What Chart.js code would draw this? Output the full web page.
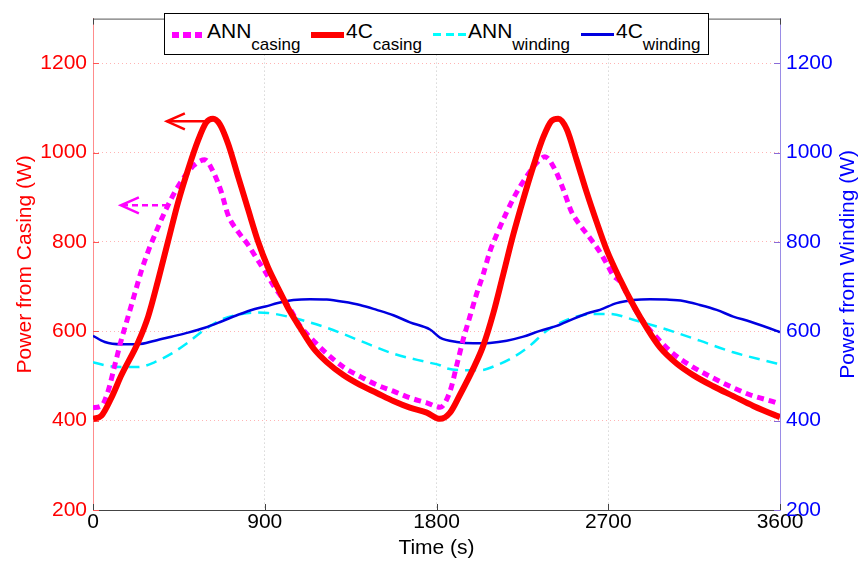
<!DOCTYPE html>
<html lang="en">
<head>
<meta charset="UTF-8">
<title>Power from casing and winding</title>
<script src="https://cdn.jsdelivr.net/npm/chart.js"></script>
<style>
  body { margin: 0; background: #fff; font-family: "Liberation Sans", Arial, sans-serif; }
  #wrap { position: relative; width: 860px; height: 563px; }
  #legendBox { position: absolute; left: 164px; top: 13px; width: 543px; height: 40px; border: 1px solid #000; background: #fff; }
  .item { position: absolute; top: 20px; font-size: 21px; line-height: 21px; white-space: nowrap; color: #000; }
  .item sub { font-size: 17px; line-height: 17px; vertical-align: -12px; }
  .smp { display: inline-block; width: 33px; vertical-align: baseline; margin-right: 2px; }
</style>
</head>
<body>
<div id="wrap">
  <canvas id="powerChart" width="860" height="563"></canvas>
  <div id="legendBox"></div>
  <div class="item" style="left:172px"><span class="smp" style="height:6px;background:repeating-linear-gradient(to right,#ff00ff 0 7px,transparent 7px 11.5px)"></span>ANN<sub>casing</sub></div>
  <div class="item" style="left:311px"><span class="smp" style="height:6px;background:#ff0000"></span>4C<sub>casing</sub></div>
  <div class="item" style="left:433px"><span class="smp" style="height:3px;margin-bottom:2px;background:repeating-linear-gradient(to right,#00ffff 0 8px,transparent 8px 12.5px)"></span>ANN<sub>winding</sub></div>
  <div class="item" style="left:581px"><span class="smp" style="height:3px;margin-bottom:2px;background:#0000e0"></span>4C<sub>winding</sub></div>
</div>

<script>
    // Valeurs (temps en s, puissance en W)
    const xTicks = [0, 900, 1800, 2700, 3600];
    const yTicks = [200, 400, 600, 800, 1000, 1200];

    const casing4CTime = [0, 44, 96, 149, 236, 289, 341, 393, 446, 498, 551, 594, 629, 664, 708, 760, 812, 865, 915,
        980, 1033, 1085, 1155, 1225, 1312, 1399, 1487, 1574, 1661, 1749, 1818, 1871, 1923, 1993, 2045, 2098, 2150,
        2202, 2255, 2307, 2360, 2403, 2438, 2482, 2534, 2587, 2639, 2692, 2761, 2831, 2901, 2971, 3058, 3145, 3250,
        3355, 3460, 3582, 3600];
    const casing4CPower = [404, 411, 451, 502, 575, 633, 714, 801, 889, 962, 1028, 1068, 1076, 1064, 1020, 947, 874, 801, 745,
        688, 644, 608, 562, 531, 502, 480, 462, 444, 429, 418, 404, 418, 458, 517, 568, 641, 728,
        816, 896, 969, 1035, 1071, 1076, 1053, 984, 911, 845, 782, 717, 659, 608, 564, 528, 502, 477,
        455, 433, 411, 408];

    const casingAnnTime = [0, 44, 79, 114, 149, 184, 219, 254, 289, 324, 376, 428, 481, 533, 586, 629, 673, 708, 760,
        812, 865, 900, 945, 1033, 1085, 1155, 1225, 1312, 1399, 1487, 1574, 1661, 1749, 1820, 1871, 1906, 1940,
        1975, 2011, 2045, 2080, 2115, 2168, 2220, 2273, 2325, 2368, 2421, 2464, 2508, 2552, 2604, 2660, 2700,
        2726, 2761, 2831, 2901, 2954, 3040, 3128, 3233, 3338, 3442, 3582, 3600];
    const casingAnnPower = [429, 433, 466, 524, 582, 633, 685, 736, 779, 816, 867, 911, 947, 973, 984, 958, 911, 860, 823,
        794, 758, 735, 703, 650, 612, 579, 550, 520, 499, 480, 466, 451, 440, 430, 466, 524, 582,
        633, 685, 728, 779, 816, 867, 911, 947, 977, 991, 962, 918, 867, 838, 809, 775, 745,
        725, 712, 656, 612, 586, 550, 524, 499, 477, 458, 440, 437];

    const winding4CTime = [0, 62, 149, 236, 324, 411, 498, 586, 673, 760, 848, 917, 963, 1050, 1137, 1225, 1312, 1399,
        1487, 1574, 1661, 1766, 1818, 1906, 1993, 2080, 2168, 2255, 2342, 2430, 2517, 2604, 2656, 2744, 2831,
        2918, 3006, 3093, 3180, 3268, 3355, 3442, 3582, 3600];
    const winding4CPower = [590, 576, 571, 571, 579, 588, 597, 608, 622, 637, 650, 657, 663, 670, 672, 671, 666, 659,
        648, 636, 620, 604, 586, 576, 573, 574, 579, 588, 601, 612, 628, 642, 648, 663, 670,
        672, 671, 668, 659, 648, 633, 622, 601, 598];

    const windingAnnTime = [0, 62, 149, 236, 324, 411, 498, 586, 673, 760, 848, 917, 1050, 1225, 1399, 1574, 1749, 1818,
        1853, 1940, 2028, 2115, 2202, 2290, 2377, 2464, 2552, 2639, 2709, 2831, 3006, 3180, 3355, 3582, 3600];
    const windingAnnPower = [531, 524, 520, 520, 531, 550, 575, 604, 626, 637, 642, 641, 630, 608, 579, 550, 531, 524,
        517, 513, 513, 524, 542, 568, 601, 622, 635, 639, 639, 626, 604, 579, 553, 528, 526];

    // Flèches d'annotation (coordonnées en données : [temps, puissance])
    const casingArrowFrom = [613, 1070];
    const casingArrowTo = [387, 1070];
    const annArrowFrom = [393, 882];
    const annArrowTo = [146, 882];

    const FONT = '"Liberation Sans", Arial, sans-serif';

    function toPoints(times, values) {
        return times.map((t, i) => ({ x: t, y: values[i] }));
    }

    function setTicks(list) {
        return scale => { scale.ticks = list.map(v => ({ value: v })); };
    }

    // Pas de séparateur de milliers sur les graduations
    const plainLabel = v => String(v);

    // Dessine une flèche entre deux points (pixels)
    function drawArrow(ctx, x1, y1, x2, y2, color, dash) {
        ctx.save();
        ctx.strokeStyle = color;
        ctx.lineWidth = 2.5;
        ctx.setLineDash(dash);
        ctx.beginPath();
        ctx.moveTo(x1, y1);
        ctx.lineTo(x2, y2);
        ctx.stroke();
        ctx.setLineDash([]);
        ctx.beginPath();
        ctx.moveTo(x2 + 18, y2 - 8);
        ctx.lineTo(x2, y2);
        ctx.lineTo(x2 + 18, y2 + 8);
        ctx.stroke();
        ctx.restore();
    }

    const decorations = {
        id: 'decorations',
        beforeDatasetsDraw(chart) {
            const { ctx, chartArea: a, scales } = chart;
            ctx.save();
            // cadre du haut
            ctx.strokeStyle = '#555';
            ctx.lineWidth = 1;
            ctx.beginPath();
            ctx.moveTo(a.left, a.top + 0.5);
            ctx.lineTo(a.right, a.top + 0.5);
            ctx.stroke();
            // graduations intérieures
            xTicks.forEach(v => {
                const px = Math.round(scales.x.getPixelForValue(v)) + 0.5;
                ctx.strokeStyle = '#444';
                ctx.beginPath();
                ctx.moveTo(px, a.bottom); ctx.lineTo(px, a.bottom - 6);
                ctx.moveTo(px, a.top); ctx.lineTo(px, a.top + 6);
                ctx.stroke();
            });
            yTicks.forEach(v => {
                const py = Math.round(scales.y.getPixelForValue(v)) + 0.5;
                ctx.strokeStyle = '#ff5555';
                ctx.beginPath();
                ctx.moveTo(a.left, py); ctx.lineTo(a.left + 6, py);
                ctx.stroke();
                ctx.strokeStyle = '#8a6ad8';
                ctx.beginPath();
                ctx.moveTo(a.right, py); ctx.lineTo(a.right - 6, py);
                ctx.stroke();
            });
            ctx.restore();
        },
        afterDatasetsDraw(chart) {
            const { ctx, scales } = chart;
            const px = v => scales.x.getPixelForValue(v);
            const py = v => scales.y.getPixelForValue(v);
            drawArrow(ctx, px(casingArrowFrom[0]), py(casingArrowFrom[1]), px(casingArrowTo[0]), py(casingArrowTo[1]), '#ff0000', []);
            drawArrow(ctx, px(annArrowFrom[0]), py(annArrowFrom[1]), px(annArrowTo[0]), py(annArrowTo[1]), '#ff00ff', [6, 4]);
        },
        afterDraw(chart) {
            // titre de l'axe droit, lu de bas en haut comme à gauche
            const { ctx, chartArea: a } = chart;
            ctx.save();
            ctx.translate(848, (a.top + a.bottom) / 2);
            ctx.rotate(-Math.PI / 2);
            ctx.font = '21px ' + FONT;
            ctx.fillStyle = '#0000ff';
            ctx.textAlign = 'center';
            ctx.textBaseline = 'middle';
            ctx.fillText('Power from Winding (W)', 0, 0);
            ctx.restore();
        }
    };

    const ctx = document.getElementById('powerChart').getContext('2d');
    const chart = new Chart(ctx, {
        type: 'line',
        data: {
            datasets: [
                {
                    label: '4C casing',
                    data: toPoints(casing4CTime, casing4CPower),
                    borderColor: '#ff0000',
                    borderWidth: 6,
                    borderJoinStyle: 'round',
                    yAxisID: 'y',
                    order: 0
                },
                {
                    label: 'ANN casing',
                    data: toPoints(casingAnnTime, casingAnnPower),
                    borderColor: '#ff00ff',
                    borderWidth: 5,
                    borderDash: [7, 5],
                    yAxisID: 'y',
                    order: 1
                },
                {
                    label: '4C winding',
                    data: toPoints(winding4CTime, winding4CPower),
                    borderColor: '#0000e0',
                    borderWidth: 2.5,
                    yAxisID: 'y2',
                    order: 2
                },
                {
                    label: 'ANN winding',
                    data: toPoints(windingAnnTime, windingAnnPower),
                    borderColor: '#00f0ff',
                    borderWidth: 2.5,
                    borderDash: [11, 7],
                    yAxisID: 'y2',
                    order: 3
                }
            ]
        },
        options: {
            responsive: false,
            animation: false,
            layout: { padding: { top: 7 } },
            elements: {
                point: { radius: 0 },
                line: { cubicInterpolationMode: 'monotone', fill: false }
            },
            plugins: { legend: { display: false }, tooltip: { enabled: false } },
            scales: {
                x: {
                    type: 'linear',
                    min: 0,
                    max: 3600,
                    afterBuildTicks: setTicks(xTicks),
                    afterFit: s => { s.height = 53; },
                    ticks: { color: '#000', font: { size: 21, family: FONT }, padding: 0, maxRotation: 0, autoSkip: false, callback: plainLabel },
                    grid: {
                        drawTicks: false,
                        color: c => (c.tick && (c.tick.value === 0 || c.tick.value === 3600)) ? 'rgba(0,0,0,0)' : '#c4c4c4'
                    },
                    border: { color: '#444', width: 1, dash: [1, 3] },
                    title: { display: true, text: 'Time (s)', color: '#000', font: { size: 21, family: FONT }, padding: { top: 0, bottom: 2 } }
                },
                y: {
                    position: 'left',
                    min: 200,
                    max: 1300,
                    afterBuildTicks: setTicks(yTicks),
                    afterFit: s => { s.width = 93; },
                    ticks: { color: '#ff0000', font: { size: 21, family: FONT }, padding: 6, callback: plainLabel },
                    grid: { drawTicks: false, color: '#ffb4b4' },
                    border: { color: '#ff8c8c', width: 1, dash: [1, 3] },
                    title: { display: true, text: 'Power from Casing (W)', color: '#ff0000', font: { size: 21, family: FONT }, padding: { top: 13, bottom: 0 } }
                },
                y2: {
                    position: 'right',
                    min: 200,
                    max: 1300,
                    afterBuildTicks: setTicks(yTicks),
                    afterFit: s => { s.width = 80; },
                    ticks: { color: '#0000ff', font: { size: 21, family: FONT }, padding: 6, callback: plainLabel },
                    grid: { drawTicks: false, drawOnChartArea: false },
                    border: { color: '#9a8ce6', width: 1 }
                }
            }
        },
        plugins: [decorations]
    });
</script>
</body>
</html>
